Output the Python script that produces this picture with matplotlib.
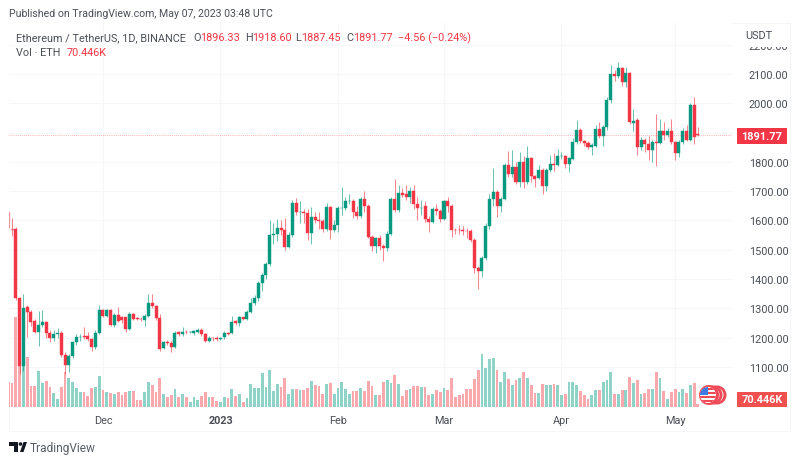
import matplotlib
matplotlib.use("Agg")
import matplotlib.pyplot as plt
import pandas as pd
from matplotlib.patches import Circle, Polygon, Rectangle
from matplotlib.transforms import IdentityTransform

plt.rcParams["font.family"] = ["Roboto", "DejaVu Sans"]

UP = "#089981"
DOWN = "#F23645"
UP_VOL = "#8fd2c7"
DOWN_VOL = "#f9a9ad"
TEXT = "#4a4e57"

dates = pd.date_range("2022-11-06", "2023-05-07", freq="D")

opens = [
    1630, 1570, 1571, 1335, 1102, 1304, 1289, 1258, 1221, 1244, 1255, 1217, 1198, 1211, 1216, 1142, 1107, 1139, 1185,
    1201, 1205, 1205, 1196, 1168, 1217, 1295, 1275, 1295, 1242, 1278, 1270, 1270, 1230, 1281, 1266, 1265, 1262, 1275,
    1319, 1308, 1267, 1164, 1187, 1181, 1168, 1219, 1214, 1219, 1219, 1217, 1219, 1227, 1213, 1190, 1199, 1198,
    1196, 1201, 1215, 1215, 1256, 1251, 1269, 1264,
    1289, 1318, 1335, 1387, 1414, 1452, 1551, 1554, 1576, 1566, 1509, 1552, 1660, 1628, 1628, 1626, 1556, 1611, 1602,
    1597, 1570, 1645, 1566, 1585, 1643, 1643, 1665, 1668, 1630, 1615, 1672, 1651, 1543, 1512, 1540, 1514, 1505, 1554,
    1674, 1637, 1694, 1690, 1679, 1702, 1657, 1642, 1651, 1605, 1594, 1640, 1634, 1605, 1665, 1649, 1569, 1568, 1567,
    1565, 1563, 1532, 1437, 1427, 1472, 1582, 1673, 1698, 1650, 1673, 1790, 1759, 1781, 1730, 1801, 1730, 1812, 1751,
    1744, 1773, 1717, 1773, 1793, 1790, 1820, 1819, 1793, 1810, 1869, 1910, 1872, 1865, 1851, 1855, 1912, 1887, 1918,
    2012, 2100, 2092, 2119, 2074, 2103, 1933, 1944, 1850, 1875, 1861, 1842, 1868, 1866, 1907, 1892, 1907, 1867, 1829,
    1867, 1907, 1876, 1994, 1896.33,
]
closes = [
    1575, 1568, 1335, 1105, 1300, 1289, 1255, 1221, 1244, 1255, 1217, 1198, 1213, 1216, 1142, 1108, 1139, 1185, 1202,
    1204, 1203, 1196, 1168, 1217, 1295, 1275, 1295, 1242, 1278, 1258, 1262, 1230, 1281, 1264, 1264, 1263, 1275, 1319,
    1308, 1267, 1162, 1187, 1181, 1168, 1216, 1211, 1219, 1218, 1220, 1222, 1227, 1213, 1190, 1200, 1198, 1195,
    1200, 1215, 1214, 1255, 1250, 1269, 1264, 1289,
    1318, 1335, 1387, 1414, 1452, 1551, 1554, 1576, 1566, 1509, 1552, 1660, 1628, 1628, 1626, 1556, 1611, 1600, 1597,
    1570, 1645, 1566, 1585, 1643, 1643, 1665, 1665, 1630, 1615, 1672, 1651, 1543, 1512, 1540, 1514, 1505, 1554, 1674,
    1637, 1694, 1687, 1679, 1702, 1657, 1642, 1642, 1605, 1594, 1640, 1634, 1605, 1665, 1649, 1569, 1568, 1567, 1565,
    1563, 1532, 1437, 1427, 1472, 1582, 1673, 1698, 1650, 1673, 1789, 1759, 1781, 1730, 1801, 1730, 1812, 1751, 1742,
    1773, 1717, 1773, 1793, 1790, 1819, 1821, 1793, 1812, 1869, 1910, 1872, 1865, 1851, 1859, 1912, 1887, 1918, 2012,
    2100, 2092, 2119, 2074, 2103, 1935, 1940, 1850, 1875, 1861, 1842, 1867, 1866, 1907, 1892, 1907, 1867, 1829, 1867,
    1907, 1876, 1994, 1885, 1891.77,
]
highs = [
    1632, 1610, 1578, 1340, 1350, 1310, 1295, 1265, 1290, 1293, 1258, 1225, 1228, 1232, 1222, 1150, 1145, 1190, 1213,
    1213, 1235, 1220, 1200, 1225, 1310, 1298, 1298, 1298, 1285, 1305, 1275, 1272, 1288, 1285, 1270, 1272, 1280, 1350,
    1350, 1312, 1280, 1190, 1192, 1190, 1222, 1222, 1235, 1228, 1224, 1226, 1232, 1232, 1216, 1206, 1202, 1205,
    1203, 1222, 1220, 1275, 1262, 1275, 1272, 1295,
    1335, 1345, 1392, 1420, 1460, 1600, 1590, 1605, 1600, 1610, 1560, 1670, 1676, 1665, 1640, 1640, 1645, 1630, 1630,
    1605, 1660, 1650, 1600, 1650, 1713, 1680, 1690, 1672, 1650, 1680, 1700, 1655, 1550, 1545, 1550, 1520, 1565, 1680,
    1742, 1720, 1710, 1720, 1715, 1720, 1680, 1670, 1665, 1615, 1645, 1655, 1640, 1670, 1680, 1655, 1575, 1585, 1580,
    1575, 1570, 1540, 1445, 1480, 1590, 1690, 1778, 1705, 1680, 1795, 1838, 1840, 1800, 1835, 1820, 1855, 1815, 1755,
    1790, 1780, 1780, 1825, 1830, 1845, 1835, 1825, 1815, 1880, 1942, 1915, 1875, 1870, 1865, 1925, 1937, 1925, 2020,
    2130, 2115, 2140, 2125, 2125, 2108, 1980, 1950, 1885, 1880, 1890, 1875, 1963, 1945, 1935, 1915, 1945, 1872, 1875,
    1915, 1925, 2000, 2020, 1918.60,
]
lows = [
    1560, 1548, 1330, 1077, 1085, 1202, 1240, 1215, 1173, 1235, 1200, 1185, 1190, 1198, 1135, 1075, 1082, 1130, 1175,
    1190, 1195, 1190, 1155, 1160, 1213, 1270, 1270, 1240, 1238, 1255, 1250, 1220, 1228, 1262, 1260, 1258, 1240, 1270,
    1300, 1262, 1155, 1160, 1175, 1150, 1165, 1205, 1205, 1212, 1215, 1210, 1215, 1205, 1185, 1185, 1190, 1190,
    1192, 1195, 1210, 1212, 1245, 1240, 1260, 1262,
    1285, 1312, 1325, 1361, 1400, 1445, 1520, 1530, 1549, 1500, 1505, 1545, 1620, 1590, 1590, 1535, 1520, 1590, 1570,
    1560, 1565, 1537, 1560, 1560, 1620, 1635, 1655, 1610, 1605, 1610, 1630, 1540, 1495, 1490, 1500, 1463, 1495, 1550,
    1630, 1630, 1680, 1670, 1660, 1640, 1600, 1620, 1595, 1560, 1590, 1620, 1595, 1600, 1630, 1545, 1555, 1555, 1550,
    1540, 1525, 1420, 1366, 1406, 1465, 1570, 1650, 1611, 1630, 1670, 1750, 1750, 1725, 1715, 1710, 1725, 1730, 1715,
    1740, 1690, 1700, 1765, 1770, 1785, 1810, 1780, 1764, 1805, 1860, 1865, 1855, 1845, 1825, 1850, 1880, 1853, 1910,
    2000, 2075, 2085, 2060, 2055, 1930, 1905, 1825, 1840, 1835, 1808, 1800, 1787, 1860, 1875, 1885, 1860, 1805, 1815,
    1860, 1870, 1870, 1860, 1887.45,
]
volumes = [
    750, 720, 2680, 3200, 2000, 1500, 620, 620, 1070, 720, 770, 600, 400, 240, 600, 1050, 850, 750, 550, 450,
    430, 320, 550, 580, 930, 500, 430, 400, 370, 450, 340, 450, 470, 470, 200, 200, 430, 750, 640, 450,
    850, 380, 300, 340, 530, 280, 370, 300, 150, 280, 200, 320, 430, 280, 300, 170, 150, 300, 250, 530,
    320, 380, 150, 250,
    690, 550, 550, 1020, 600, 1090, 470, 690, 600, 870, 370, 520, 540, 500, 500, 550, 770, 640, 620, 370,
    670, 700, 370, 550, 740, 540, 370, 480, 480, 550, 480, 760, 620, 350, 350, 740, 790, 720, 950, 690,
    320, 500, 520, 620, 620, 590, 590, 350, 370, 500, 450, 550, 500, 870, 290, 350, 370, 520, 540, 840,
    1100, 1590, 1170, 1420, 1470, 1100, 750, 1040, 840, 640, 800, 870, 1040, 850, 650, 420, 420, 690, 640, 640,
    690, 650, 340, 370, 750, 740, 640, 470, 340, 240, 340, 500, 490, 750, 790, 1050, 370, 370, 500, 500,
    900, 720, 800, 390, 420, 520, 540, 1050, 850, 470, 220, 440, 520, 450, 540, 420, 640, 720, 70,
]
price_ticks = [1100, 1200, 1300, 1400, 1500, 1600, 1700, 1800, 1900, 2000, 2100, 2200]
month_labels = {"2022-12-01": "Dec", "2023-01-01": "2023", "2023-02-01": "Feb",
                "2023-03-01": "Mar", "2023-04-01": "Apr", "2023-05-01": "May"}
last_price = closes[-1]


def fx(x):
    return x / 800


def fy(y):
    return 1 - y / 464


def label(x, y, s, color=TEXT, size=7.8, **kw):
    kw.setdefault("va", "center")
    return fig.text(fx(x), fy(y), s, color=color, fontsize=size, **kw)


fig = plt.figure(figsize=(8, 4.64), dpi=100, facecolor="white")

# pane is 9..732 across and 24..409.5 down, in pixels
rect = [fx(9), fy(409.5), fx(732 - 9), (409.5 - 24) / 464]
ax_vol = fig.add_axes(rect, zorder=1)
ax = fig.add_axes(rect, zorder=2)
ax.patch.set_visible(False)

xs = list(range(len(dates)))
xlim = (0.2, 191)
ax.set_xlim(xlim)
ax_vol.set_xlim(xlim)
ax.set_ylim(958.4, 2274)
ax_vol.set_ylim(-60, 11505)

# volume
vol_colors = [UP_VOL if c >= o else DOWN_VOL for o, c in zip(opens, closes)]
ax_vol.bar(xs, volumes, width=0.74, color=vol_colors, linewidth=0)

# candles
colors = [UP if c >= o else DOWN for o, c in zip(opens, closes)]
alphas = [0.45, 0.45] + [1.0] * (len(xs) - 2)
ax.vlines(xs, lows, highs, colors=colors, linewidth=0.75, alpha=0.6)
bottoms = [min(o, c) for o, c in zip(opens, closes)]
heights = [abs(c - o) for o, c in zip(opens, closes)]
bars = ax.bar(xs, heights, bottom=bottoms, width=0.8, color=colors, edgecolor=colors, linewidth=0.3)
for b, a in zip(bars, alphas):
    b.set_alpha(a)

# last price line
ax.axhline(last_price, color=DOWN, linewidth=0.6, linestyle=(0, (1, 1.5)), alpha=0.5)

# grid and axes
ax_vol.set_yticks([])
ax_vol.set_xticks([])
tick_pos = [dates.get_loc(pd.Timestamp(d)) for d in month_labels]
for t in tick_pos:
    ax_vol.axvline(t, color="#f6f7f9", linewidth=0.8, zorder=0)
for p in price_ticks:
    ax_vol.axhline((p - 958.4) / (2274 - 958.4) * 11565 - 60, color="#f6f7f9", linewidth=0.8, zorder=0)

ax.set_xticks(tick_pos, list(month_labels.values()), fontsize=7.8, color=TEXT)
ax.get_xticklabels()[1].set_fontweight("bold")
ax.tick_params(axis="x", length=0, pad=5)
ax.yaxis.tick_right()
# the 1900 label sits under the last price tag in the reference
ytick_text = ["" if p == 1900 else f"{p:.2f}" for p in price_ticks]
ax.set_yticks(price_ticks, ytick_text, fontsize=7.8, color=TEXT)
ax.tick_params(axis="y", length=0, pad=12)
for a in (ax, ax_vol):
    for s in a.spines.values():
        s.set_visible(False)

# outer frame
fig.add_artist(Rectangle((fx(9), fy(432)), fx(781), 408 / 464, transform=fig.transFigure,
                         fill=False, edgecolor="#f5f6f8", linewidth=0.8))
# hides most of the 2200 label
fig.add_artist(Rectangle((fx(735), fy(48)), fx(53), 23 / 464, transform=fig.transFigure,
                         facecolor="white", edgecolor="none", zorder=5))
label(759, 36, "USDT", ha="center", zorder=6)

# header
label(9, 14, "Published on TradingView.com, May 07, 2023 03:48 UTC", size=7.6)
label(16, 38, "Ethereum / TetherUS, 1D, BINANCE")
label(193, 38, "O")
label(200, 38, "1896.33", color=DOWN)
label(245, 38, "H")
label(252, 38, "1918.60", color=DOWN)
label(295, 38, "L")
label(301, 38, "1887.45", color=DOWN)
label(346, 38, "C")
label(353, 38, "1891.77", color=DOWN)
label(398, 38, "\u22124.56 (\u22120.24%)", color=DOWN)
label(16, 53, "Vol \u00b7 ETH")
label(67, 53, "70.446K", color=DOWN)

# value tags
fig.add_artist(Rectangle((fx(737), fy(144.5)), fx(50), 16 / 464, transform=fig.transFigure,
                         facecolor=DOWN, edgecolor="none", zorder=5))
label(762, 136.5, "1891.77", color="white", ha="center", fontweight="bold", zorder=6)
fig.add_artist(Rectangle((fx(737), fy(407.5)), fx(50), 15 / 464, transform=fig.transFigure,
                         facecolor="#f0514f", edgecolor="none", zorder=5))
label(762, 400, "70.446K", color="white", ha="center", fontweight="bold", zorder=6)


def px_circle(x, y, r, **kw):
    c = Circle((x, 464 - y), r, transform=IdentityTransform(), **kw)
    fig.add_artist(c)
    return c


# flag badge
px_circle(717, 396, 9.5, facecolor="#ee4a57", edgecolor="none", zorder=3)
px_circle(716, 396, 7.5, facecolor="white", edgecolor="none", zorder=3.1)
px_circle(713, 396, 9.5, facecolor="#ee4a57", edgecolor="none", zorder=3.2)
px_circle(712, 396, 7.5, facecolor="white", edgecolor="none", zorder=3.3)
px_circle(709, 396, 10, facecolor="#ee4a57", edgecolor="none", zorder=3.4)
clip = px_circle(708, 396, 8, facecolor="white", edgecolor="none", zorder=3.5)
for sy in (390, 394, 398, 402):
    stripe = Rectangle((700, 464 - sy - 1), 17, 2, transform=IdentityTransform(),
                       facecolor="#ee4a57", edgecolor="none", zorder=3.6)
    fig.add_artist(stripe)
    stripe.set_clip_path(clip)
canton = Rectangle((700, 464 - 396), 8, 9, transform=IdentityTransform(),
                   facecolor="#3f7be0", edgecolor="none", zorder=3.7)
fig.add_artist(canton)
canton.set_clip_path(clip)

# TradingView logo
logo = [[(9, 443), (18, 443), (18, 453), (14, 453), (14, 447), (9, 447)],
        [(20, 453), (23.5, 443), (27, 443), (23.5, 453)]]
for pts in logo:
    fig.add_artist(Polygon([(x, 464 - y) for x, y in pts], transform=IdentityTransform(),
                           facecolor="#131722", edgecolor="none"))
px_circle(20.5, 445, 1.8, facecolor="#131722", edgecolor="none")
label(30, 448.5, "TradingView", size=8.6, color="#5a5e67")

fig.savefig("out.png", dpi=100)
